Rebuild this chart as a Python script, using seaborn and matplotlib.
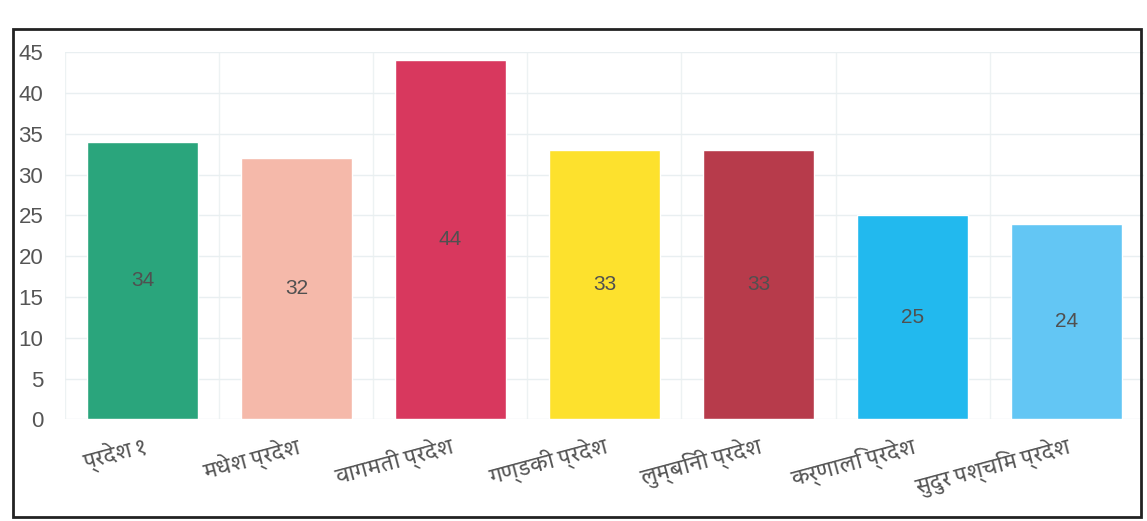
import matplotlib
matplotlib.use("Agg")
import matplotlib.pyplot as plt
import seaborn as sns
import pandas as pd
from matplotlib import font_manager
from matplotlib.ft2font import FT2Font
from matplotlib.patches import Rectangle

provinces = ["प्रदेश १", "मधेश प्रदेश", "वागमती प्रदेश", "गण्डकी प्रदेश",
             "लुम्बिनी प्रदेश", "कर्णालि प्रदेश", "सुदुर पश्चिम प्रदेश"]
counts = [34, 32, 44, 33, 33, 25, 24]
bar_colors = ["#2aa57c", "#f5b9aa", "#d8385e", "#fde12d",
              "#b73b4b", "#22b9ee", "#63c6f4"]
y_ticks = [0, 5, 10, 15, 20, 25, 30, 35, 40, 45]


def find_devanagari_font():
    # pick a font covering Devanagari; prefer one whose vowel signs
    # have no advance width (looks closest without text shaping)
    best = None
    for path in font_manager.findSystemFonts():
        try:
            f = FT2Font(path)
            cmap = f.get_charmap()
            if 0x092A not in cmap or 0x0947 not in cmap:
                continue
            adv = f.load_char(0x0947).horiAdvance
        except Exception:
            continue
        name = font_manager.FontProperties(fname=path).get_name()
        score = (adv, "Serif" in name)
        if best is None or score < best[0]:
            best = (score, name, path)
    if best is None:
        return None, None
    return best[1], best[2]


name, path = find_devanagari_font()
sns.set_style("white")
families = ["DejaVu Sans"]
if name:
    font_manager.fontManager.addfont(path)
    families = [name, "DejaVu Sans"]
plt.rcParams["font.family"] = families

df = pd.DataFrame({"province": provinces, "count": counts})

fig = plt.figure(figsize=(11.47, 5.21), dpi=100)
ax = fig.add_axes([0.057, 0.195, 0.94, 0.705])

sns.barplot(data=df, x="province", y="count", hue="province",
            palette=bar_colors, order=provinces, hue_order=provinces,
            width=0.72, saturation=1, legend=False, ax=ax)

for container in ax.containers:
    ax.bar_label(container, label_type="center", fontsize=15,
                 color="#505050", family="Liberation Sans")

ax.set_ylim(0, 45)
ax.set_xlim(-0.5, 6.5)
ax.set_yticks(y_ticks)
ax.set_yticklabels([str(t) for t in y_ticks], fontsize=16,
                   color="#555555", family="Liberation Sans")
ax.set_xticks([i + 0.5 for i in range(-1, 7)], minor=True)
ax.set_xlabel("")
ax.set_ylabel("")
ax.grid(False)
ax.grid(True, axis="y", color="#e9eff1", linewidth=1)
ax.grid(True, axis="x", which="minor", color="#edf2f3", linewidth=1)
ax.set_axisbelow(True)
ax.tick_params(axis="y", length=0, pad=16)
ax.tick_params(axis="x", which="both", length=0, pad=10)
plt.setp(ax.get_xticklabels(), rotation=15, ha="right",
         rotation_mode="anchor", fontsize=15, color="#555555")
for s in ax.spines.values():
    s.set_visible(False)

# frame around the printed chart
fig.patches.append(Rectangle((0.011, 0.008), 0.984, 0.937,
                             transform=fig.transFigure, fill=False,
                             edgecolor="#222222", linewidth=2))

fig.savefig("out.png", dpi=100)
